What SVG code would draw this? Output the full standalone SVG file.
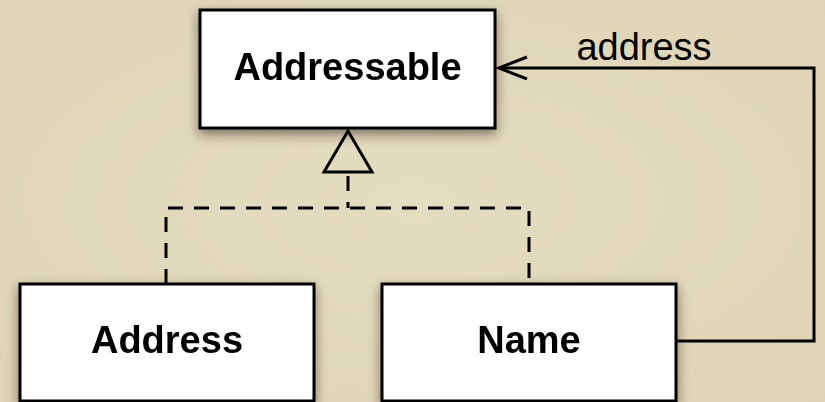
<svg xmlns="http://www.w3.org/2000/svg" width="825" height="402" viewBox="0 0 825 402">
  <defs>
    <radialGradient id="bg" cx="50%" cy="50%" r="75%">
      <stop offset="0" stop-color="#e5ddc0"/>
      <stop offset="1" stop-color="#ddd4b5"/>
    </radialGradient>
    <filter id="shadow" x="-20%" y="-30%" width="140%" height="160%">
      <feDropShadow dx="0" dy="5" stdDeviation="6" flood-color="#2a2410" flood-opacity="0.55"/>
    </filter>
    <marker id="open-arrow" markerUnits="userSpaceOnUse" markerWidth="34" markerHeight="30" refX="31" refY="12" orient="auto" viewBox="0 0 34 30">
      <polyline points="3,1 31,12 3,23" fill="none" stroke="#000" stroke-width="3"/>
    </marker>
  </defs>
  <style>
    .box { fill: #ffffff; stroke: #000; stroke-width: 3; }
    .label { font-family: "Liberation Sans", Arial, Helvetica, sans-serif; font-weight: bold; font-size: 38px; text-anchor: middle; fill: #000; }
    .role { font-family: "Liberation Sans", Arial, Helvetica, sans-serif; font-size: 38px; text-anchor: middle; fill: #000; }
    .line { fill: none; stroke: #000; stroke-width: 3; }
    .dash { fill: none; stroke: #000; stroke-width: 3; stroke-dasharray: 15 11; }
  </style>
  <rect x="0" y="0" width="825" height="402" fill="url(#bg)"/>

  <g id="connectors">
    <line class="dash" x1="348" y1="172" x2="348" y2="208" stroke-dashoffset="-4"/>
    <polyline class="dash" points="166,284 166,208 529,208 529,284"/>
    <polygon points="348,131 324,172 372,172" fill="none" stroke="#000" stroke-width="3" stroke-linejoin="miter"/>
    <polyline class="line" points="676,341 814,341 814,68 499,68" marker-end="url(#open-arrow)"/>
    <text class="role" x="644" y="60">address</text>
  </g>

  <g id="node-addressable" filter="url(#shadow)">
    <rect class="box" x="200" y="10" width="295" height="118"/>
    <text class="label" x="347.5" y="80">Addressable</text>
  </g>

  <g id="node-address" filter="url(#shadow)">
    <rect class="box" x="20" y="284" width="294" height="117"/>
    <text class="label" x="167" y="353">Address</text>
  </g>

  <g id="node-name" filter="url(#shadow)">
    <rect class="box" x="382" y="284" width="294" height="117"/>
    <text class="label" x="529" y="353">Name</text>
  </g>
</svg>
